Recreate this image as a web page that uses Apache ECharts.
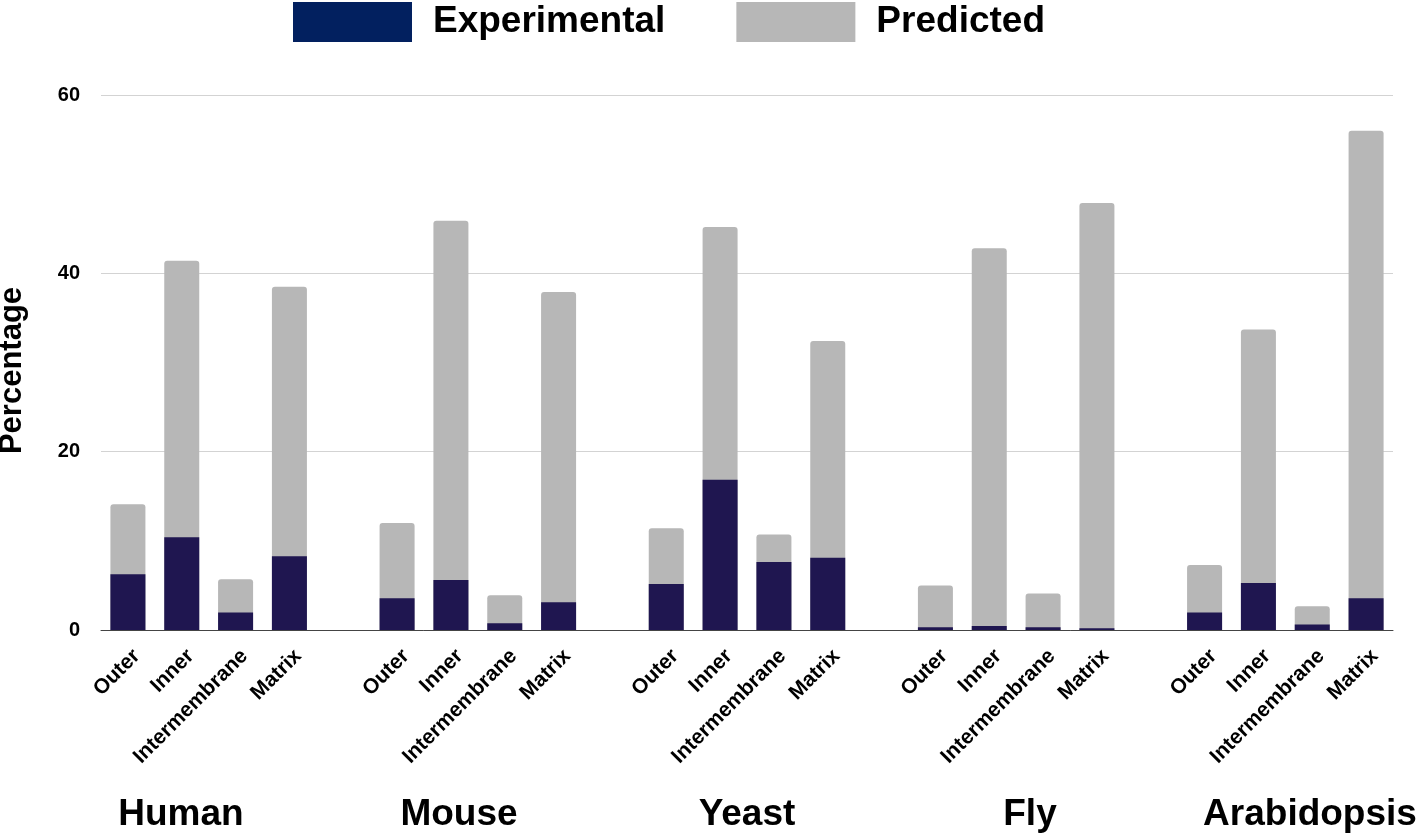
<!DOCTYPE html>
<html>
<head>
<meta charset="utf-8">
<script src="https://cdn.jsdelivr.net/npm/echarts@6/dist/echarts.min.js"></script>
<style>
html,body{margin:0;padding:0;background:#fff;}
#chart{width:1418px;height:836px;}
</style>
</head>
<body>
<div id="chart"></div>
<script>
// ---- data ----
const species = ['Human', 'Mouse', 'Yeast', 'Fly', 'Arabidopsis'];
const compartments = ['Outer', 'Inner', 'Intermembrane', 'Matrix'];
const experimental = {
  Human:       [6.25, 10.4, 1.95, 8.26],
  Mouse:       [3.55, 5.6, 0.75, 3.1],
  Yeast:       [5.16, 16.86, 7.63, 8.1],
  Fly:         [0.3, 0.45, 0.3, 0.2],
  Arabidopsis: [1.95, 5.27, 0.63, 3.55]
};
const predicted = {
  Human:       [14.1, 41.4, 5.7, 38.5],
  Mouse:       [12.0, 45.9, 3.9, 37.9],
  Yeast:       [11.4, 45.2, 10.7, 32.4],
  Fly:         [5.0, 42.8, 4.1, 47.9],
  Arabidopsis: [7.3, 33.7, 2.65, 56.0]
};
const yTicks = [0, 20, 40, 60];
const seriesNames = ['Experimental', 'Predicted'];

// ---- layout (not data) ----
const speciesLabelX = [181, 459, 747, 1030, 1310];

// build flat category list with spacer slots between groups
const categories = [];
const expData = [];
const predData = [];
species.forEach((s, gi) => {
  if (gi > 0) { categories.push(''); expData.push('-'); predData.push('-'); }
  compartments.forEach((c, ci) => {
    categories.push(c);
    expData.push(experimental[s][ci]);
    predData.push(predicted[s][ci]);
  });
});

const FONT = 'Liberation Sans, Arial, sans-serif';
const chart = echarts.init(document.getElementById('chart'));
chart.setOption({
  animation: false,
  backgroundColor: '#ffffff',
  legend: {
    top: -3,
    left: 288,
    itemWidth: 119,
    itemHeight: 40,
    itemGap: 71,
    icon: 'rect',
    data: [
      { name: seriesNames[0], itemStyle: { color: '#02205f' } },
      { name: seriesNames[1], itemStyle: { color: '#b7b7b7' } }
    ],
    textStyle: { fontFamily: FONT, fontWeight: 'bold', fontSize: 37, color: '#000', padding: [6, 0, 0, 16] }
  },
  grid: { left: 101, right: 25, top: 95, bottom: 206, outerBoundsMode: 'none', containLabel: false },
  xAxis: {
    type: 'category',
    data: categories,
    boundaryGap: true,
    axisLine: { show: true, lineStyle: { color: '#444', width: 1 } },
    axisTick: { show: false },
    axisLabel: {
      interval: 0, rotate: 45, margin: 14, verticalAlign: 'top', padding: [2, 0, 0, 0],
      fontFamily: FONT, fontWeight: 'bold', fontSize: 21, color: '#000'
    },
    splitLine: { show: false }
  },
  yAxis: {
    type: 'value',
    min: yTicks[0], max: yTicks[yTicks.length - 1], interval: 20,
    name: 'Percentage',
    nameLocation: 'middle',
    nameGap: 73,
    nameTextStyle: { fontFamily: FONT, fontWeight: 'bold', fontSize: 31, color: '#000', padding: [0, 16, 0, 0] },
    axisLine: { show: false },
    axisTick: { show: false },
    axisLabel: { margin: 21, fontFamily: FONT, fontWeight: 'bold', fontSize: 20, color: '#000' },
    splitLine: { lineStyle: { color: '#d3d3d3', width: 1 } }
  },
  series: [
    {
      name: seriesNames[1], type: 'bar', data: predData, barWidth: 35, barGap: '-100%',
      itemStyle: { color: '#b7b7b7', borderRadius: [3, 3, 0, 0] }, z: 2
    },
    {
      name: seriesNames[0], type: 'bar', data: expData, barWidth: 35, barGap: '-100%',
      itemStyle: { color: '#1f1650' }, z: 3
    }
  ],
  graphic: species.map((s, i) => ({
    type: 'text',
    x: speciesLabelX[i],
    y: 815,
    style: {
      text: s,
      fontFamily: FONT, fontWeight: 'bold', fontSize: 37, fill: '#000',
      align: 'center', verticalAlign: 'middle'
    }
  }))
});
</script>
</body>
</html>
